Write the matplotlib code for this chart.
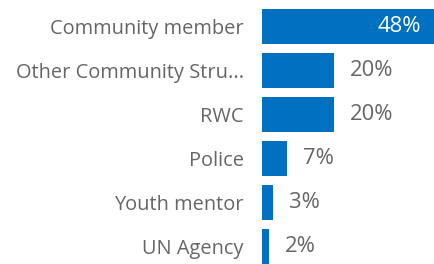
import matplotlib
matplotlib.use("Agg")
import matplotlib.pyplot as plt

categories = ["Community member", "Other Community Stru...", "RWC", "Police", "Youth mentor", "UN Agency"]
values = [48, 20, 20, 7, 3, 2]
value_labels = ["48%", "20%", "20%", "7%", "3%", "2%"]

bar_color = "#0070C0"
text_color = "#666666"
plt.rcParams['font.family'] = ['Open Sans', 'DejaVu Sans']

fig = plt.figure(figsize=(4.34, 2.64), dpi=100)
ax = fig.add_axes([262 / 434, 0, 172 / 434, 1])

y = list(range(len(categories)))
ax.barh(y, values, height=0.795, color=bar_color)
ax.set_xlim(0, 48)
ax.set_ylim(5.398, -0.602)

for i, (v, lab) in enumerate(zip(values, value_labels)):
    if i == 0:
        ax.text(v - 3.6, i, lab, color="white", fontsize=15.8, ha="right", va="center")
    else:
        ax.text(v + 4.4, i, lab, color=text_color, fontsize=15.8, ha="left", va="center")

ax.set_yticks(y)
ax.set_yticklabels(categories, fontsize=14.4, color=text_color)
ax.tick_params(axis="y", length=0, pad=13)
ax.set_xticks([])
for s in ax.spines.values():
    s.set_visible(False)

fig.savefig("out.png", dpi=100)
